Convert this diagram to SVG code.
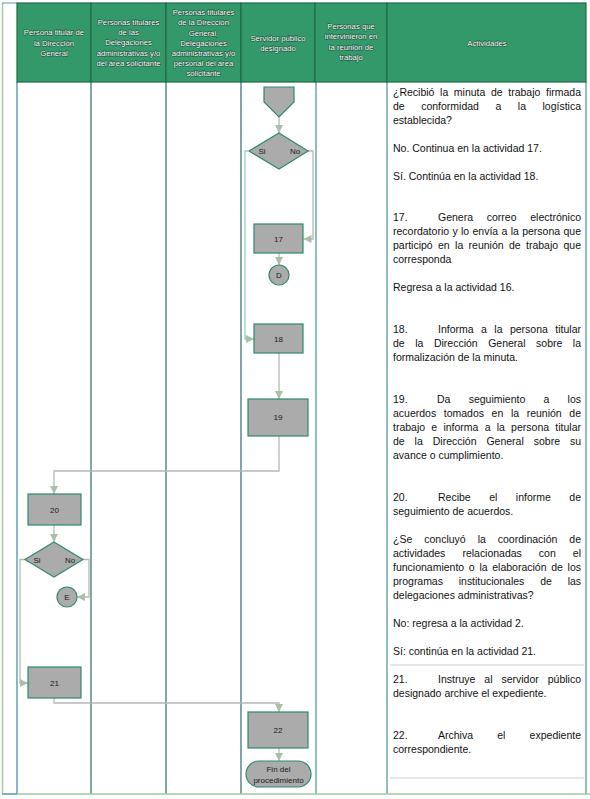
<svg xmlns="http://www.w3.org/2000/svg" width="590" height="799" viewBox="0 0 590 799">
<defs>
<marker id="ah" viewBox="0 0 10 10" refX="10" refY="5" markerWidth="8" markerHeight="8" markerUnits="userSpaceOnUse" orient="auto">
<path d="M0,0 L10,5 L0,10 z" fill="#A9BFA9"/>
</marker>
<style>
.hd{fill:#33996A;stroke:#1F6B4A;stroke-width:1.2}
.ht{font-family:"Liberation Sans",Arial,sans-serif;font-size:7.7px;fill:#fff;stroke:#1D4F38;stroke-width:1.1px;paint-order:stroke;text-anchor:middle}
.lane{stroke:#2F6B6B;stroke-width:1.2;fill:none}
.lane2{stroke:#5FA3A3;stroke-width:1.4;fill:none}
.box{fill:#ABABAB;stroke:#2E8B6E;stroke-width:1.2}
.bt{font-family:"Liberation Sans",Arial,sans-serif;font-size:8px;fill:#1a1a1a;text-anchor:middle}
.con{fill:none;stroke:#B6B9B6;stroke-width:1.3}
.at{font-family:"Liberation Sans",Arial,sans-serif;font-size:10.5px;fill:#111}
.sep{stroke:#E6E6E6;stroke-width:2}
</style>
</defs>

<g id="frame">
<rect x="0" y="0" width="590" height="799" fill="#fff"/>
<line x1="2.5" y1="3" x2="2.5" y2="794" stroke="#A8C8A8" stroke-width="1.5"/>
<line x1="17" y1="82" x2="17" y2="794" stroke="#8BB8C8" stroke-width="2"/>
<line x1="91" y1="82" x2="91" y2="794" class="lane"/>
<line x1="166" y1="82" x2="166" y2="794" class="lane"/>
<line x1="241" y1="82" x2="241" y2="794" class="lane"/>
<line x1="316" y1="82" x2="316" y2="794" class="lane2"/>
<line x1="387" y1="82" x2="387" y2="794" class="lane2"/>
<line x1="586" y1="82" x2="586" y2="794" class="lane2"/>
<line x1="2" y1="794" x2="17" y2="794" stroke="#5F9EA8" stroke-width="1.6"/>
<line x1="17" y1="794" x2="590" y2="794" stroke="#A0C8A0" stroke-width="1.6"/>
<line x1="2" y1="3" x2="17" y2="3" stroke="#5F9E9E" stroke-width="1"/>
<line x1="390" y1="665" x2="584" y2="665" class="sep"/>
<line x1="390" y1="778" x2="584" y2="778" class="sep"/>
</g>

<g id="header">
<rect x="17" y="3" width="74" height="79" class="hd"/>
<rect x="91" y="3" width="75" height="79" class="hd"/>
<rect x="166" y="3" width="75" height="79" class="hd"/>
<rect x="241" y="3" width="74" height="79" class="hd"/>
<rect x="315" y="3" width="72" height="79" class="hd"/>
<rect x="387" y="3" width="199" height="79" class="hd"/>
<text class="ht"><tspan x="54" y="35">Persona titular de</tspan><tspan x="54" y="45.5">la Dirección</tspan><tspan x="54" y="56">General</tspan></text>
<text class="ht"><tspan x="128.5" y="24.5">Personas titulares</tspan><tspan x="128.5" y="34.5">de las</tspan><tspan x="128.5" y="45">Delegaciones</tspan><tspan x="128.5" y="55.5">administrativas y/o</tspan><tspan x="128.5" y="66">del área solicitante</tspan></text>
<text class="ht"><tspan x="203.5" y="14.5">Personas titulares</tspan><tspan x="203.5" y="25">de la Dirección</tspan><tspan x="203.5" y="35.5">General,</tspan><tspan x="203.5" y="45.5">Delegaciones</tspan><tspan x="203.5" y="55.5">administrativas y/o</tspan><tspan x="203.5" y="65.5">personal del área</tspan><tspan x="203.5" y="75.5">solicitante</tspan></text>
<text class="ht"><tspan x="278" y="40.5">Servidor público</tspan><tspan x="278" y="51">designado</tspan></text>
<text class="ht"><tspan x="351" y="28.5">Personas que</tspan><tspan x="351" y="39">intervinieron en</tspan><tspan x="351" y="49.5">la reunión de</tspan><tspan x="351" y="60">trabajo</tspan></text>
<text class="ht" x="487" y="45.5">Actividades</text>
</g>

<g id="connectors">
<path class="con" d="M279 117 V133" marker-end="url(#ah)"/>
<path class="con" d="M308 151 H313 V239 H303.5" marker-end="url(#ah)"/>
<path class="con" d="M279 253 V265" marker-end="url(#ah)"/>
<path class="con" d="M248 151 H245 V339 H254" marker-end="url(#ah)" style="stroke:#95CACA"/>
<path class="con" d="M279 353 V399" marker-end="url(#ah)"/>
<path class="con" d="M279 436 V471 H54 V494" marker-end="url(#ah)"/>
<path class="con" d="M54 525 V542" marker-end="url(#ah)"/>
<path class="con" d="M83 559.5 H89 V597 H77" marker-end="url(#ah)"/>
<path class="con" d="M25 559.5 H20 V683 H28" marker-end="url(#ah)"/>
<path class="con" d="M54 698 V703 H279 V712" marker-end="url(#ah)"/>
<path class="con" d="M279 748 V761" marker-end="url(#ah)"/>
</g>

<g id="offpage-start">
<polygon points="264,87 294,87 294,102 279,117 264,102" class="box"/>
</g>
<g id="decision-1">
<polygon points="279,133 308,151 279,169 249,151" class="box"/>
<text class="bt" x="262" y="154">Si</text>
<text class="bt" x="295" y="154">No</text>
</g>
<g id="act-17">
<rect x="254" y="224" width="49" height="29" class="box"/>
<text class="bt" x="278.5" y="241.5">17</text>
</g>
<g id="conn-D">
<circle cx="279" cy="275" r="10" class="box"/>
<text class="bt" x="279" y="278">D</text>
</g>
<g id="act-18">
<rect x="254" y="324" width="49" height="29" class="box"/>
<text class="bt" x="278.5" y="341.5">18</text>
</g>
<g id="act-19">
<rect x="248" y="399" width="60" height="37" class="box"/>
<text class="bt" x="278" y="420">19</text>
</g>
<g id="act-20">
<rect x="28" y="494" width="53" height="31" class="box"/>
<text class="bt" x="54.5" y="512.5">20</text>
</g>
<g id="decision-2">
<polygon points="54,542 83,559.5 54,577 25,559.5" class="box"/>
<text class="bt" x="37" y="562.5">Si</text>
<text class="bt" x="70" y="562.5">No</text>
</g>
<g id="conn-E">
<circle cx="67" cy="597" r="10" class="box"/>
<text class="bt" x="67" y="600">E</text>
</g>
<g id="act-21">
<rect x="28" y="667" width="53" height="31" class="box"/>
<text class="bt" x="54.5" y="685.5">21</text>
</g>
<g id="act-22">
<rect x="248" y="712" width="60" height="36" class="box"/>
<text class="bt" x="278" y="733">22</text>
</g>
<g id="end">
<rect x="246" y="761" width="65" height="26" rx="13" class="box"/>
<text class="bt"><tspan x="278.5" y="772">Fin del</tspan><tspan x="278.5" y="782.5">procedimiento</tspan></text>
</g>

<g id="activities">
<text class="at" x="393" y="95.5" word-spacing="2.7" textLength="188" lengthAdjust="spacing">¿Recibió la minuta de trabajo firmada</text>
<text class="at" x="393" y="109.5" word-spacing="13.6" textLength="188" lengthAdjust="spacing">de conformidad a la logística</text>
<text class="at" x="393" y="123.5">establecida?</text>
<text class="at" x="393" y="151.5">No. Continua en la actividad 17.</text>
<text class="at" x="393" y="179.5">Sí. Continúa en la actividad 18.</text>

<text class="at" x="393" y="220.5">17.</text>
<text class="at" x="438" y="220.5" word-spacing="10.8" textLength="143" lengthAdjust="spacing">Genera correo electrónico</text>
<text class="at" x="393" y="234.5" word-spacing="0.4" textLength="188" lengthAdjust="spacing">recordatorio y lo envía a la persona que</text>
<text class="at" x="393" y="248.5" word-spacing="2.45" textLength="188" lengthAdjust="spacing">participó en la reunión de trabajo que</text>
<text class="at" x="393" y="262.5">corresponda</text>
<text class="at" x="393" y="290.5">Regresa a la actividad 16.</text>

<text class="at" x="393" y="332.5">18.</text>
<text class="at" x="438" y="332.5" word-spacing="4.5" textLength="143" lengthAdjust="spacing">Informa a la persona titular</text>
<text class="at" x="393" y="346.5" word-spacing="7.6" textLength="188" lengthAdjust="spacing">de la Dirección General sobre la</text>
<text class="at" x="393" y="360.5">formalización de la minuta.</text>

<text class="at" x="393" y="402.5">19.</text>
<text class="at" x="437" y="402.5" word-spacing="15.3" textLength="144" lengthAdjust="spacing">Da seguimiento a los</text>
<text class="at" x="393" y="416.5" word-spacing="4.7" textLength="188" lengthAdjust="spacing">acuerdos tomados en la reunión de</text>
<text class="at" x="393" y="430.5" word-spacing="3.3" textLength="188" lengthAdjust="spacing">trabajo e informa a la persona titular</text>
<text class="at" x="393" y="444.5" word-spacing="7" textLength="188" lengthAdjust="spacing">de la Dirección General sobre su</text>
<text class="at" x="393" y="458.5">avance o cumplimiento.</text>

<text class="at" x="393" y="500.5">20.</text>
<text class="at" x="438" y="500.5" word-spacing="15.6" textLength="143" lengthAdjust="spacing">Recibe el informe de</text>
<text class="at" x="393" y="514.5">seguimiento de acuerdos.</text>
<text class="at" x="393" y="542.5" word-spacing="9" textLength="188" lengthAdjust="spacing">¿Se concluyó la coordinación de</text>
<text class="at" x="393" y="556.5" word-spacing="14.2" textLength="188" lengthAdjust="spacing">actividades relacionadas con el</text>
<text class="at" x="393" y="570.5" word-spacing="1.8" textLength="188" lengthAdjust="spacing">funcionamiento o la elaboración de los</text>
<text class="at" x="393" y="584.5" word-spacing="13" textLength="188" lengthAdjust="spacing">programas institucionales de las</text>
<text class="at" x="393" y="598.5">delegaciones administrativas?</text>
<text class="at" x="393" y="626.5">No: regresa a la actividad 2.</text>
<text class="at" x="393" y="654.5">Sí: continúa en la actividad 21.</text>

<text class="at" x="393" y="682.5">21.</text>
<text class="at" x="438" y="682.5" word-spacing="6" textLength="143" lengthAdjust="spacing">Instruye al servidor público</text>
<text class="at" x="393" y="696.5">designado archive el expediente.</text>

<text class="at" x="393" y="738.5">22.</text>
<text class="at" x="438" y="738.5" word-spacing="21.3" textLength="143" lengthAdjust="spacing">Archiva el expediente</text>
<text class="at" x="393" y="752.5">correspondiente.</text>
</g>
</svg>
